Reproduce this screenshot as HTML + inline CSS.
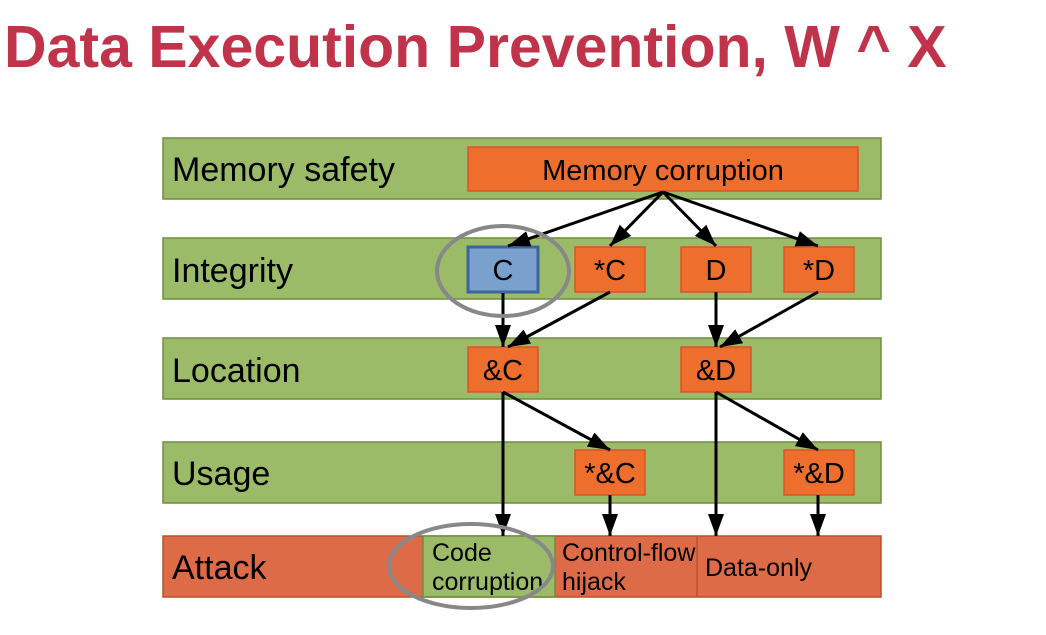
<!DOCTYPE html>
<html><head><meta charset="utf-8"><style>
body{margin:0;background:#fff;width:1046px;height:630px;overflow:hidden}
svg text{font-family:"Liberation Sans",sans-serif}
</style></head><body>
<svg width="1046" height="630" viewBox="0 0 1046 630" xmlns="http://www.w3.org/2000/svg">
<defs>
<marker id="b" markerWidth="22" markerHeight="16" refX="22" refY="8" orient="auto" markerUnits="userSpaceOnUse"><path d="M0,0 L22,8 L0,16 z" fill="#000"/></marker></defs>
<text x="4" y="67" font-size="59" font-weight="bold" fill="#c0334a">Data Execution Prevention, W ^ X</text>
<g stroke="#6d8f3e" stroke-width="1.5" fill="#9bbb69">
<rect x="163" y="138" width="718" height="61"/>
<rect x="163" y="238" width="718" height="61"/>
<rect x="163" y="338" width="718" height="61"/>
<rect x="163" y="442" width="718" height="61"/>
</g>
<rect x="163" y="536" width="718" height="61" fill="#dd6b48" stroke="#b9512c" stroke-width="1.5"/>
<rect x="423" y="536" width="132" height="61" fill="#9bbb69" stroke="#6d8f3e" stroke-width="1.5"/>
<line x1="697" y1="536" x2="697" y2="597" stroke="#b9512c" stroke-width="1.5"/>
<g font-size="34" fill="#000">
<text x="172" y="181">Memory safety</text>
<text x="172" y="282">Integrity</text>
<text x="172" y="382">Location</text>
<text x="172" y="485">Usage</text>
<text x="172" y="579">Attack</text>
</g>
<g fill="#ee6f2d" stroke="#d9542a" stroke-width="1.5">
<rect x="468" y="147" width="390" height="44"/>
<rect x="575" y="247" width="70" height="45"/>
<rect x="681" y="247" width="70" height="45"/>
<rect x="784" y="247" width="70" height="45"/>
<rect x="468" y="347" width="70" height="45"/>
<rect x="681" y="347" width="70" height="45"/>
<rect x="575" y="450" width="70" height="45"/>
<rect x="784" y="450" width="70" height="45"/>
</g>
<rect x="468" y="247" width="70" height="45" fill="#7aa0cd" stroke="#3e64a0" stroke-width="3"/>
<g font-size="29" fill="#000" text-anchor="middle">
<text x="663" y="180">Memory corruption</text>
<text x="503" y="280">C</text>
<text x="610" y="280">*C</text>
<text x="716" y="280">D</text>
<text x="819" y="280">*D</text>
<text x="503" y="380">&amp;C</text>
<text x="716" y="380">&amp;D</text>
<text x="610" y="483">*&amp;C</text>
<text x="819" y="483">*&amp;D</text>
</g>
<g font-size="25" fill="#000">
<text x="432" y="561">Code</text>
<text x="432" y="590">corruption</text>
<text x="562" y="561">Control-flow</text>
<text x="562" y="590">hijack</text>
<text x="705" y="576">Data-only</text>
</g>
<g stroke="#000" stroke-width="3" marker-end="url(#b)">
<line x1="663" y1="192" x2="508" y2="246"/>
<line x1="663" y1="192" x2="610" y2="246"/>
<line x1="663" y1="192" x2="716" y2="246"/>
<line x1="663" y1="192" x2="818" y2="246"/>
<line x1="503" y1="293" x2="503" y2="347"/>
<line x1="610" y1="292" x2="508" y2="347"/>
<line x1="716" y1="292" x2="716" y2="347"/>
<line x1="818" y1="292" x2="720" y2="347"/>
<line x1="503" y1="392" x2="503" y2="536"/>
<line x1="503" y1="392" x2="610" y2="450"/>
<line x1="716" y1="392" x2="716" y2="536"/>
<line x1="716" y1="392" x2="818" y2="450"/>
<line x1="610" y1="495" x2="610" y2="536"/>
<line x1="818" y1="495" x2="818" y2="536"/>
</g>
<ellipse cx="503" cy="271" rx="66" ry="45" fill="none" stroke="#888" stroke-width="4"/>
<ellipse cx="471" cy="566" rx="82" ry="42" fill="none" stroke="#888" stroke-width="4"/>
</svg>
</body></html>
